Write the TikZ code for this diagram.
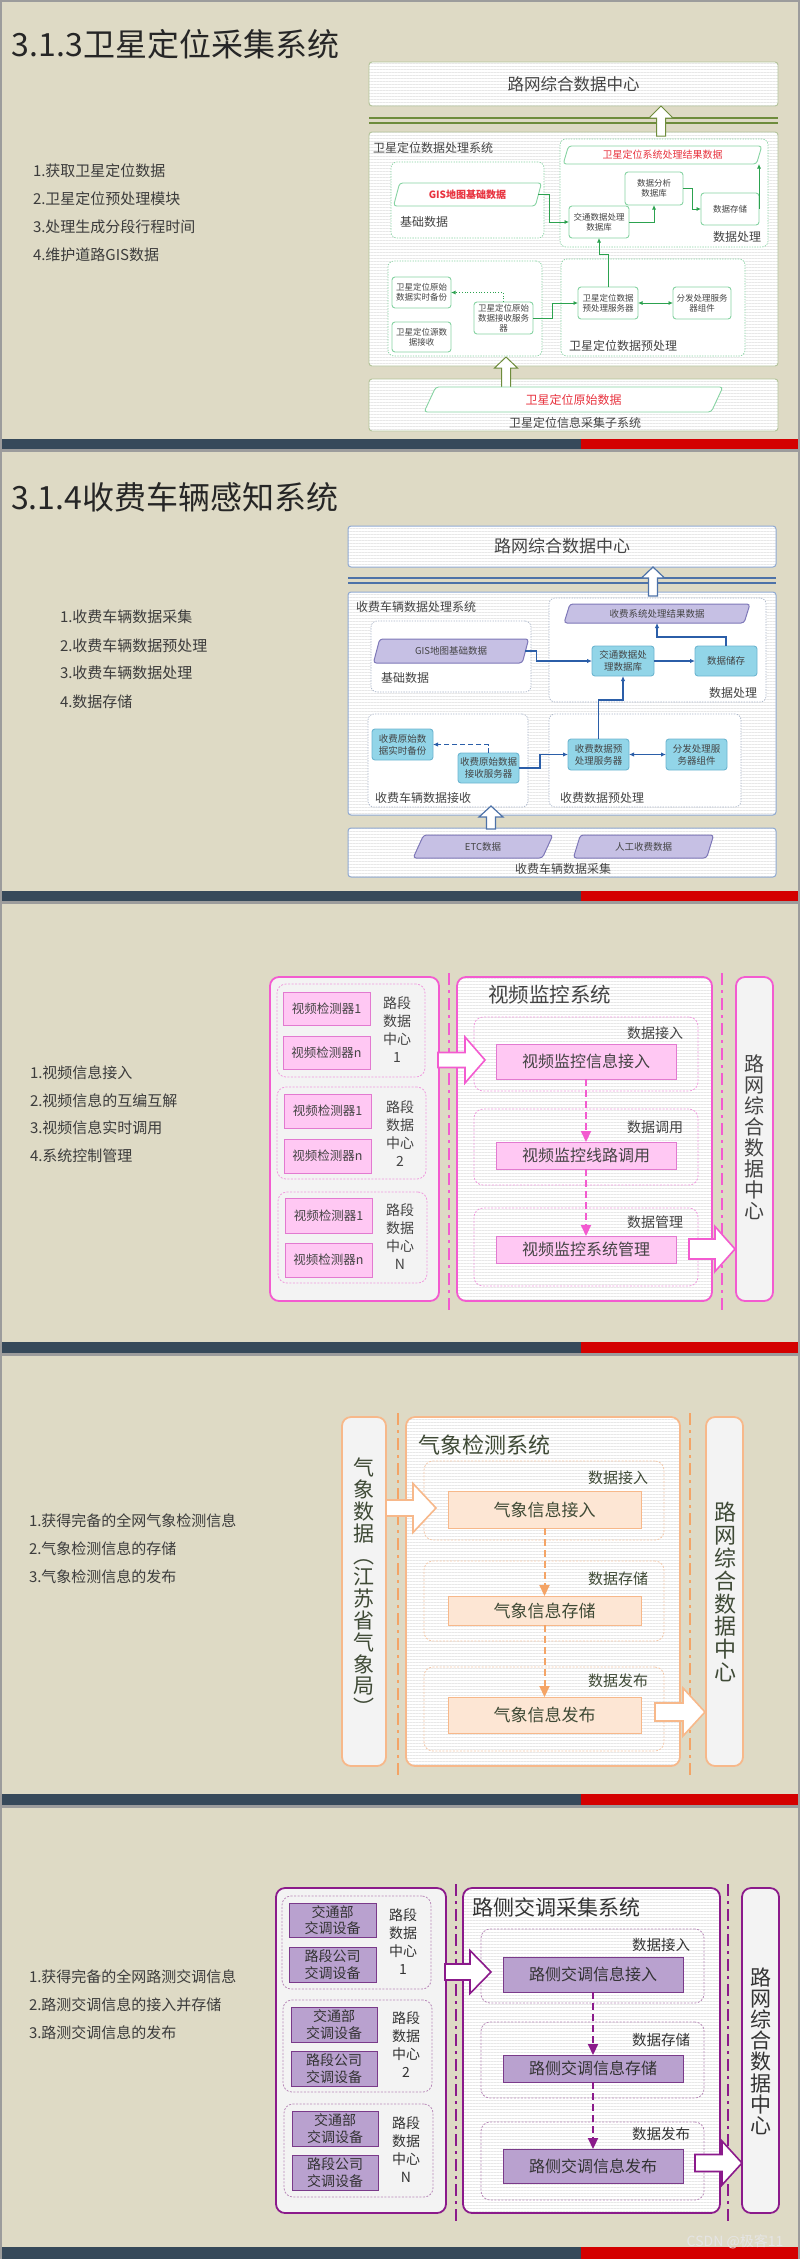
\documentclass[tikz,border=0pt]{standalone}
\usepackage{fontspec}
\setmainfont{Noto Sans CJK SC}
\usetikzlibrary{shapes.geometric,arrows.meta,patterns.meta}
\definecolor{bgG}{HTML}{9C9C9C}
\definecolor{beige}{HTML}{DEDAC5}
\definecolor{barD}{HTML}{36495A}
\definecolor{barR}{HTML}{D40000}
\definecolor{ttl}{HTML}{262626}
\definecolor{blt}{HTML}{3C3C3C}
\definecolor{txt}{HTML}{444444}
\definecolor{s1o}{HTML}{B3C49A}
\definecolor{s1m}{HTML}{86D3A2}
\definecolor{s1g}{HTML}{2CA24F}
\definecolor{s1dk}{HTML}{6E8C3C}
\definecolor{redT}{HTML}{E8333F}
\definecolor{s2o}{HTML}{8FA9D1}
\definecolor{s2d}{HTML}{A8B4C8}
\definecolor{s2pf}{HTML}{C6C0E4}
\definecolor{s2pd}{HTML}{7E78B8}
\definecolor{s2cf}{HTML}{92D5E8}
\definecolor{s2cd}{HTML}{6CB5D0}
\definecolor{s2a}{HTML}{2B5EA8}
\definecolor{s2dk}{HTML}{4D72A8}
\definecolor{pkB}{HTML}{F35BD0}
\definecolor{pkG}{HTML}{F09ADE}
\definecolor{pkF}{HTML}{FFC8F3}
\definecolor{pkD}{HTML}{E27AD0}
\definecolor{orB}{HTML}{F7B88A}
\definecolor{orA}{HTML}{F4A466}
\definecolor{orF}{HTML}{FDE6D4}
\definecolor{orG}{HTML}{F5C8A8}
\definecolor{orT}{HTML}{3F4A36}
\definecolor{puB}{HTML}{8B1A8B}
\definecolor{puF}{HTML}{B9A1CF}
\definecolor{puD}{HTML}{7A3A8A}
\definecolor{puG}{HTML}{B888B8}
\definecolor{panel}{HTML}{F3F3F3}
\newcommand\fsz[2]{\fontsize{#1}{#2}\selectfont}
\newcommand\bx[7]{\node[#6,minimum width={#4-#2},minimum height={#5-#3}] (#1) at ({(#2+#4)/2},{(#3+#5)/2}) {#7};}
\newcommand\pg[7]{\node[#6,trapezium,trapezium left angle=70,trapezium right angle=110,trapezium stretches=true,minimum width={#4-#2},minimum height={#5-#3}] (#1) at ({(#2+#4)/2},{(#3+#5)/2}) {#7};}
\newcommand\blkup[7]{\draw[#7] ({#1-#6},#4) -- ({#1-#6},#3) -- ({#1-#5},#3) -- (#1,#2) -- ({#1+#5},#3) -- ({#1+#6},#3) -- ({#1+#6},#4) -- cycle;}
\newcommand\blkrt[7]{\draw[#7] (#4,{#1-#6}) -- (#3,{#1-#6}) -- (#3,{#1-#5}) -- (#2,#1) -- (#3,{#1+#5}) -- (#3,{#1+#6}) -- (#4,{#1+#6}) -- cycle;}
\tikzset{
 every node/.style={inner sep=0pt,outer sep=0pt,align=center},
 stripes/.style={preaction={fill=white},pattern={Lines[angle=0,distance=3pt,line width=0.7pt]},pattern color=black!9},
 ttlf/.style={anchor=west,text=ttl,font=\fsz{32}{36}},
 bltf/.style={anchor=west,text=blt,font=\fsz{15}{18}},
 s1out/.style={draw=s1o,line width=0.9pt,rounded corners=3pt,stripes},
 s1dash/.style={draw=s1m,line width=0.7pt,dash pattern=on 1.3pt off 1.3pt,rounded corners=6pt,fill=white},
 s1box/.style={draw=s1m,line width=0.9pt,rounded corners=3pt,fill=white,text=txt,font=\fsz{8.5}{10}},
 s1para/.style={draw=s1m,line width=0.9pt,rounded corners=3pt,fill=white,text=redT},
 s1arr/.style={draw=s1g,line width=0.8pt,-{Latex[length=4.5pt,width=4pt]}},
 s1blk/.style={draw=s1dk,line width=1pt,fill=white},
 s1dbl/.style={draw=s1dk,line width=1.3pt},
 s1lbl/.style={text=txt,font=\fsz{12}{14}},
 s2out/.style={draw=s2o,line width=1pt,rounded corners=3pt,stripes},
 s2dash/.style={draw=s2d,line width=0.7pt,dash pattern=on 1.3pt off 1.3pt,rounded corners=6pt,fill=white},
 s2box/.style={draw=s2cd,line width=0.9pt,rounded corners=3pt,fill=s2cf,text=txt,font=\fsz{9.5}{12}},
 s2para/.style={draw=s2pd,line width=1pt,rounded corners=3pt,fill=s2pf,text=txt,font=\fsz{9.5}{12}},
 s2arr/.style={draw=s2a,line width=1.3pt,-{Latex[length=5pt,width=4.5pt]}},
 s2blk/.style={draw=s2dk,line width=1.2pt,fill=white},
 s2dbl/.style={draw=s2dk,line width=1.5pt},
 s2lbl/.style={text=txt,font=\fsz{12}{14}},
 s3pan/.style={draw=pkB,line width=1.8pt,rounded corners=9pt},
 s3grp/.style={draw=pkG,line width=0.8pt,dash pattern=on 2pt off 1.5pt,rounded corners=9pt},
 s3box/.style={draw=pkD,line width=1pt,fill=pkF,text=txt,font=\fsz{12.5}{14}},
 s3vbox/.style={draw=pkD,line width=1pt,fill=pkF,text=txt,font=\fsz{16}{18}},
 s3lab/.style={text=txt,font=\fsz{14}{18}},
 s3sub/.style={anchor=east,text=txt,font=\fsz{14}{16}},
 s3dd/.style={draw=pkB,line width=1.8pt,dash pattern=on 12pt off 5pt on 3pt off 5pt},
 s3arr/.style={draw=pkB,line width=2pt,dash pattern=on 7pt off 4pt,-{Triangle[length=11pt,width=10pt]}},
 s3blk/.style={draw=pkB,line width=1.6pt,fill=white},
 s3vt/.style={text=txt,font=\fsz{20}{21}},
 s4pan/.style={draw=orB,line width=1.8pt,rounded corners=9pt},
 s4grp/.style={draw=orG,line width=0.8pt,dash pattern=on 2pt off 1.5pt,rounded corners=9pt},
 s4box/.style={draw=orB,line width=1pt,fill=orF,text=orT,font=\fsz{17}{19}},
 s4sub/.style={anchor=east,text=orT,font=\fsz{15}{17}},
 s4dd/.style={draw=orA,line width=1.8pt,dash pattern=on 12pt off 5pt on 3pt off 5pt},
 s4arr/.style={draw=orA,line width=2pt,dash pattern=on 7pt off 4pt,-{Triangle[length=11pt,width=10pt]}},
 s4blk/.style={draw=orB,line width=1.6pt,fill=white},
 s5pan/.style={draw=puB,line width=1.8pt,rounded corners=9pt},
 s5grp/.style={draw=puG,line width=0.8pt,dash pattern=on 2pt off 1.5pt,rounded corners=9pt},
 s5box/.style={draw=puD,line width=1pt,fill=puF,text=black!80,font=\fsz{14}{16.5}},
 s5vbox/.style={draw=puD,line width=1pt,fill=puF,text=black!80,font=\fsz{16}{18}},
 s5lab/.style={text=black!80,font=\fsz{14}{18}},
 s5sub/.style={anchor=east,text=black!80,font=\fsz{14.5}{16}},
 s5dd/.style={draw=puB,line width=1.8pt,dash pattern=on 12pt off 5pt on 3pt off 5pt},
 s5arr/.style={draw=puB,line width=2pt,dash pattern=on 7pt off 4pt,-{Triangle[length=11pt,width=10pt]}},
 s5blk/.style={draw=puB,line width=1.6pt,fill=white},
}
\begin{document}
\begin{tikzpicture}[x=1pt,y=-1pt]
\useasboundingbox (0,0) rectangle (800,2259);
\fill[bgG] (0,0) rectangle (800,2259);
% slides
\fill[beige] (2,2) rectangle (798,449);
\fill[barD] (2,439) rectangle (581,449); \fill[barR] (581,439) rectangle (798,449);
\fill[beige] (2,452) rectangle (798,901);
\fill[barD] (2,891) rectangle (581,901); \fill[barR] (581,891) rectangle (798,901);
\fill[beige] (2,904) rectangle (798,1353);
\fill[barD] (2,1342) rectangle (581,1353); \fill[barR] (581,1342) rectangle (798,1353);
\fill[beige] (2,1356) rectangle (798,1805);
\fill[barD] (2,1794) rectangle (581,1805); \fill[barR] (581,1794) rectangle (798,1805);
\fill[beige] (2,1808) rectangle (798,2259);
\fill[barD] (2,2247) rectangle (581,2259); \fill[barR] (581,2247) rectangle (798,2259);

%================ SLIDE 1
\node[ttlf] (t1) at (12,44) {3.1.3卫星定位采集系统};
\node[bltf] (b11) at (33,171) {1.获取卫星定位数据};
\node[bltf] (b12) at (33,199) {2.卫星定位预处理模块};
\node[bltf] (b13) at (33,227) {3.处理生成分段行程时间};
\node[bltf] (b14) at (33,255) {4.维护道路GIS数据};

\bx{s1top}{369}{62}{778}{106}{s1out,text=txt,font=\fsz{16.5}{18}}{路网综合数据中心}
\draw[s1dbl] (369,118) -- (778,118);
\draw[s1dbl] (369,123) -- (778,123);
\bx{s1sys}{369}{132}{778}{366}{s1out}{}
\node[s1lbl,anchor=west] (s1syst) at (373,148) {卫星定位数据处理系统};
\blkup{661}{106}{118}{136}{12}{4.5}{s1blk}

\bx{s1jc}{391}{162}{544}{238}{s1dash}{}
\pg{s1gis}{393}{183}{542}{206}{s1para,font=\bfseries\fsz{10}{12}}{GIS地图基础数据}
\node[s1lbl,anchor=west] (s1jct) at (400,222) {基础数据};

\bx{s1cl}{560}{139}{768}{247}{s1dash}{}
\node[s1lbl] (s1clt) at (737,237) {数据处理};
\pg{s1res}{563}{146}{762}{164}{s1para,font=\fsz{10}{12}}{卫星定位系统处理结果数据}
\bx{s1jt}{569}{206}{629}{238}{s1box}{交通数据处理\\数据库}
\bx{s1fx}{625}{172}{683}{205}{s1box}{数据分析\\数据库}
\bx{s1cc}{701}{193}{759}{225}{s1box}{数据存储}

\bx{s1js}{388}{261}{542}{356}{s1dash}{}
\bx{s1bf}{392}{277}{451}{308}{s1box}{卫星定位原始\\数据实时备份}
\bx{s1ysj}{392}{322}{451}{352}{s1box}{卫星定位源数\\据接收}
\bx{s1jsf}{474}{302}{533}{334}{s1box}{卫星定位原始\\数据接收服务\\器}

\bx{s1yc}{561}{259}{745}{356}{s1dash}{}
\node[s1lbl] (s1yct) at (623,346) {卫星定位数据预处理};
\bx{s1ycl}{578}{287}{638}{319}{s1box}{卫星定位数据\\预处理服务器}
\bx{s1ff}{673}{287}{731}{319}{s1box}{分发处理服务\\器组件}

\draw[s1arr] (s1gis.east) -- ++(11,0) |- (s1jt.west);
\draw[s1arr] (s1jt.east) -| (s1fx.south);
\draw[s1arr] (s1fx.east) -- ++(9,0) |- (s1cc.west);
\draw[s1arr] (s1cc.east) -- (s1cc.east |- s1res.south);
\draw[s1arr] (s1ycl.north) -- ++(0,-33) -| (s1jt.south);
\draw[s1arr,dotted] (s1jsf.north) |- (s1bf.east);
\draw[s1arr] (s1jsf.east) -- ++(19,0) |- (s1ycl.west);
\draw[s1arr,{Latex[length=4.5pt,width=4pt]}-{Latex[length=4.5pt,width=4pt]}] (s1ycl.east) -- (s1ff.west);

\bx{s1bot}{369}{379}{778}{431}{s1out}{}
\blkup{506}{357}{368}{388}{11.5}{4.5}{s1blk}
\pg{s1raw}{424}{387}{723}{412}{s1para,font=\fsz{12}{14}}{卫星定位原始数据}
\node[s1lbl] (s1bott) at (575,423) {卫星定位信息采集子系统};

%================ SLIDE 2
\node[ttlf] (t2) at (11,497) {3.1.4收费车辆感知系统};
\node[bltf] (b21) at (60,617) {1.收费车辆数据采集};
\node[bltf] (b22) at (60,646) {2.收费车辆数据预处理};
\node[bltf] (b23) at (60,673) {3.收费车辆数据处理};
\node[bltf] (b24) at (60,702) {4.数据存储};

\bx{s2top}{348}{526}{776}{567}{s2out,text=txt,font=\fsz{17}{19}}{路网综合数据中心}
\draw[s2dbl] (348,578) -- (776,578);
\draw[s2dbl] (348,583) -- (776,583);
\bx{s2sys}{348}{592}{776}{815}{s2out}{}
\node[s2lbl,anchor=west] (s2syst) at (356,607) {收费车辆数据处理系统};
\blkup{653}{567}{578}{596}{11.5}{4.5}{s2blk}

\bx{s2jc}{371}{621}{531}{692}{s2dash}{}
\pg{s2gis}{373}{639}{529}{663}{s2para}{GIS地图基础数据}
\node[s2lbl,anchor=west] (s2jct) at (381,678) {基础数据};
\bx{s2cl}{549}{598}{766}{702}{s2dash}{}
\node[s2lbl] (s2clt) at (733,693) {数据处理};
\pg{s2res}{564}{604}{750}{623}{s2para}{收费系统处理结果数据}
\bx{s2jt}{592}{646}{654}{676}{s2box}{交通数据处\\理数据库}
\bx{s2cc}{695}{646}{757}{676}{s2box}{数据储存}

\bx{s2js}{368}{714}{528}{807}{s2dash}{}
\node[s2lbl,anchor=west] (s2jst) at (375,798) {收费车辆数据接收};
\bx{s2bf}{372}{729}{433}{760}{s2box}{收费原始数\\据实时备份}
\bx{s2jsf}{458}{753}{519}{783}{s2box}{收费原始数据\\接收服务器}
\bx{s2yc}{549}{714}{741}{807}{s2dash}{}
\node[s2lbl,anchor=west] (s2yct) at (560,798) {收费数据预处理};
\bx{s2ycl}{568}{739}{629}{770}{s2box}{收费数据预\\处理服务器}
\bx{s2ff}{666}{739}{727}{770}{s2box}{分发处理服\\务器组件}

\draw[s2arr] (s2gis.east) -- ++(11,0) |- (s2jt.west);
\draw[s2arr] (s2jt.east) -- (s2cc.west);
\draw[s2arr] (s2cc.north) -- ++(0,-9) -| (s2res.south);
\draw[s2arr] (s2ycl.north) -- ++(0,-39) -| (s2jt.south);
\draw[s2arr,dash pattern=on 5pt off 3pt] (s2jsf.north) |- (s2bf.east);
\draw[s2arr] (s2jsf.east) -- ++(21,0) |- (s2ycl.west);
\draw[s2arr,{Latex[length=5pt,width=4.5pt]}-{Latex[length=5pt,width=4.5pt]}] (s2ycl.east) -- (s2ff.west);

\bx{s2bot}{348}{828}{776}{877}{s2out}{}
\blkup{491}{806}{817}{829}{12}{4.5}{s2blk}
\pg{s2etc}{413}{835}{553}{858}{s2para}{ETC数据}
\pg{s2rg}{573}{835}{714}{858}{s2para}{人工收费数据}
\node[s2lbl] (s2bott) at (563,869) {收费车辆数据采集};

%================ SLIDE 3
\node[bltf] (b31) at (30,1073) {1.视频信息接入};
\node[bltf] (b32) at (30,1101) {2.视频信息的互编互解};
\node[bltf] (b33) at (30,1128) {3.视频信息实时调用};
\node[bltf] (b34) at (30,1156) {4.系统控制管理};

\draw[s3dd] (449,973) -- (449,1312);
\draw[s3dd] (722,973) -- (722,1312);
\bx{s3l}{270}{977}{439}{1301}{s3pan,fill=panel}{}
\bx{s3m}{457}{977}{712}{1301}{s3pan,stripes}{}
\bx{s3r}{736}{977}{773}{1301}{s3pan,fill=panel}{}

\bx{s3g1}{277}{984}{425}{1077}{s3grp}{}
\bx{s3a1}{283}{992}{370}{1025}{s3box}{视频检测器1}
\bx{s3a2}{283}{1036}{370}{1069}{s3box}{视频检测器n}
\node[s3lab] (s3l1) at (397,1030) {路段\\数据\\中心\\1};
\bx{s3g2}{277}{1087}{426}{1179}{s3grp}{}
\bx{s3b1}{284}{1094}{371}{1128}{s3box}{视频检测器1}
\bx{s3b2}{284}{1139}{371}{1173}{s3box}{视频检测器n}
\node[s3lab] (s3l2) at (400,1133.5) {路段\\数据\\中心\\2};
\bx{s3g3}{278}{1192}{427}{1283}{s3grp}{}
\bx{s3c1}{285}{1198}{372}{1233}{s3box}{视频检测器1}
\bx{s3c2}{285}{1243}{372}{1277}{s3box}{视频检测器n}
\node[s3lab] (s3l3) at (400,1237) {路段\\数据\\中心\\N};

\node[anchor=west,text=txt,font=\fsz{20.5}{22}] (s3tt) at (488,995) {视频监控系统};
\bx{s3h1}{474}{1017}{698}{1091}{s3grp}{}
\node[s3sub] (s3s1) at (683,1033) {数据接入};
\bx{s3v1}{496}{1044}{676}{1079}{s3vbox}{视频监控信息接入}
\bx{s3h2}{474}{1109}{698}{1185}{s3grp}{}
\node[s3sub] (s3s2) at (683,1127) {数据调用};
\bx{s3v2}{496}{1142}{676}{1169}{s3vbox}{视频监控线路调用}
\bx{s3h3}{474}{1208}{698}{1286}{s3grp}{}
\node[s3sub] (s3s3) at (683,1222) {数据管理};
\bx{s3v3}{496}{1236}{676}{1263}{s3vbox}{视频监控系统管理}
\draw[s3arr] (s3v1.south) -- (s3v2.north);
\draw[s3arr] (s3v2.south) -- (s3v3.north);
\blkrt{1060}{485}{465}{438}{23}{7.5}{s3blk}
\blkrt{1249}{735}{715}{689}{22.5}{10}{s3blk}
\node[s3vt] (s3rt) at (754.5,1137) {路\\网\\综\\合\\数\\据\\中\\心};

%================ SLIDE 4
\node[bltf] (b41) at (29,1521) {1.获得完备的全网气象检测信息};
\node[bltf] (b42) at (29,1549) {2.气象检测信息的存储};
\node[bltf] (b43) at (29,1577) {3.气象检测信息的发布};

\draw[s4dd] (398,1413) -- (398,1779);
\draw[s4dd] (690,1413) -- (690,1779);
\bx{s4l}{342}{1417}{386}{1766}{s4pan,fill=panel}{}
\bx{s4m}{406}{1417}{680}{1766}{s4pan,stripes}{}
\bx{s4r}{706}{1417}{743}{1766}{s4pan,fill=panel}{}
\node[text=orT,font=\fsz{21}{21.8}] (s4lt) at (364,1587) {气\\象\\数\\据\\︵\\江\\苏\\省\\气\\象\\局\\︶};
\node[anchor=west,text=orT,font=\fsz{22}{24}] (s4tt) at (418,1445) {气象检测系统};
\bx{s4g1}{424}{1461}{664}{1540}{s4grp}{}
\node[s4sub] (s4s1) at (648,1478) {数据接入};
\bx{s4v1}{448}{1491}{641}{1528}{s4box}{气象信息接入}
\bx{s4g2}{424}{1561}{664}{1641}{s4grp}{}
\node[s4sub] (s4s2) at (648,1579) {数据存储};
\bx{s4v2}{448}{1596}{641}{1625}{s4box}{气象信息存储}
\bx{s4g3}{424}{1667}{664}{1751}{s4grp}{}
\node[s4sub] (s4s3) at (648,1681) {数据发布};
\bx{s4v3}{448}{1697}{641}{1733}{s4box}{气象信息发布}
\draw[s4arr] (s4v1.south) -- (s4v2.north);
\draw[s4arr] (s4v2.south) -- (s4v3.north);
\blkrt{1508}{436}{413}{386}{24.5}{8}{s4blk}
\blkrt{1712}{705}{683}{655}{24}{9}{s4blk}
\node[text=orT,font=\fsz{22}{22.9}] (s4rt) at (725,1592) {路\\网\\综\\合\\数\\据\\中\\心};

%================ SLIDE 5
\node[bltf] (b51) at (29,1977) {1.获得完备的全网路测交调信息};
\node[bltf] (b52) at (29,2005) {2.路测交调信息的接入并存储};
\node[bltf] (b53) at (29,2033) {3.路测交调信息的发布};

\draw[s5dd] (456,1884) -- (456,2225);
\draw[s5dd] (728,1884) -- (728,2225);
\bx{s5l}{276}{1888}{446}{2213}{s5pan,fill=panel}{}
\bx{s5m}{463}{1888}{720}{2213}{s5pan,stripes}{}
\bx{s5r}{742}{1888}{779}{2213}{s5pan,fill=panel}{}

\bx{s5g1}{282}{1896}{431}{1989}{s5grp}{}
\bx{s5a1}{289}{1903}{376}{1937}{s5box}{交通部\\交调设备}
\bx{s5a2}{289}{1947}{376}{1982}{s5box}{路段公司\\交调设备}
\node[s5lab] (s5l1) at (403,1942) {路段\\数据\\中心\\1};
\bx{s5g2}{283}{2000}{432}{2092}{s5grp}{}
\bx{s5b1}{291}{2007}{377}{2042}{s5box}{交通部\\交调设备}
\bx{s5b2}{291}{2051}{377}{2086}{s5box}{路段公司\\交调设备}
\node[s5lab] (s5l2) at (406,2045) {路段\\数据\\中心\\2};
\bx{s5g3}{284}{2104}{433}{2197}{s5grp}{}
\bx{s5c1}{292}{2111}{378}{2146}{s5box}{交通部\\交调设备}
\bx{s5c2}{292}{2155}{378}{2190}{s5box}{路段公司\\交调设备}
\node[s5lab] (s5l3) at (406,2150) {路段\\数据\\中心\\N};

\node[anchor=west,text=black!80,font=\fsz{21}{23}] (s5tt) at (472,1907) {路侧交调采集系统};
\bx{s5h1}{481}{1929}{704}{2003}{s5grp}{}
\node[s5sub] (s5s1) at (690,1945) {数据接入};
\bx{s5v1}{503}{1957}{683}{1992}{s5vbox}{路侧交调信息接入}
\bx{s5h2}{481}{2022}{704}{2098}{s5grp}{}
\node[s5sub] (s5s2) at (690,2040) {数据存储};
\bx{s5v2}{503}{2055}{683}{2082}{s5vbox}{路侧交调信息存储}
\bx{s5h3}{481}{2122}{704}{2200}{s5grp}{}
\node[s5sub] (s5s3) at (690,2134) {数据发布};
\bx{s5v3}{503}{2149}{683}{2183}{s5vbox}{路侧交调信息发布}
\draw[s5arr] (s5v1.south) -- (s5v2.north);
\draw[s5arr] (s5v2.south) -- (s5v3.north);
\blkrt{1972}{491}{470}{445}{21.5}{8}{s5blk}
\blkrt{2163}{742}{722}{695}{22}{8.5}{s5blk}
\node[text=black!80,font=\fsz{21}{21.2}] (s5rt) at (761,2051) {路\\网\\综\\合\\数\\据\\中\\心};
\node[text=white!80!gray,font=\fsz{14}{16}] (wm) at (735,2242) {CSDN @极客11};
\end{tikzpicture}
\end{document}
